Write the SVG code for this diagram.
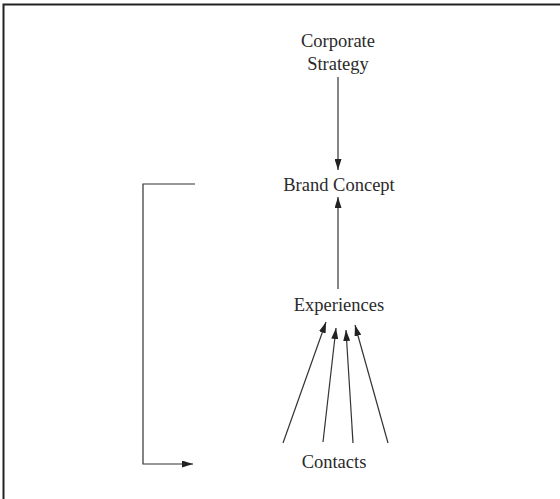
<svg xmlns="http://www.w3.org/2000/svg" width="560" height="499" viewBox="0 0 560 499">
  <style>
    .label { font-family: "Liberation Serif", "Times New Roman", serif; font-size: 18.5px; fill: #2a2a2a; text-anchor: middle; }
    .edge { stroke: #333; stroke-width: 1.2; fill: none; }
    .frame { stroke: #222; stroke-width: 2; fill: none; }
  </style>
  <defs>
    <marker id="arrow" viewBox="0 0 11 7" refX="11" refY="3.5" markerWidth="11" markerHeight="7" markerUnits="userSpaceOnUse" orient="auto">
      <path d="M0,0 L11,3.5 L0,7 z" fill="#222"/>
    </marker>
  </defs>
  <rect width="560" height="499" fill="#fff"/>
  <!-- open frame: top and left edges only -->
  <path class="frame" d="M3.5,499 L3.5,4.5 L560,4.5"/>

  <g id="corporate-strategy">
    <text class="label" x="338" y="47">Corporate</text>
    <text class="label" x="338" y="70">Strategy</text>
  </g>
  <g id="brand-concept">
    <text class="label" x="339" y="191">Brand Concept</text>
  </g>
  <g id="experiences">
    <text class="label" x="339" y="311">Experiences</text>
  </g>
  <g id="contacts">
    <text class="label" x="334" y="468">Contacts</text>
  </g>

  <g id="connectors">
    <line class="edge" x1="338" y1="77" x2="338" y2="170" marker-end="url(#arrow)"/>
    <line class="edge" x1="338" y1="289" x2="338" y2="197" marker-end="url(#arrow)"/>
    <line class="edge" x1="283" y1="443" x2="326" y2="322" marker-end="url(#arrow)"/>
    <line class="edge" x1="323" y1="442" x2="336" y2="328" marker-end="url(#arrow)"/>
    <line class="edge" x1="353" y1="443" x2="346" y2="330" marker-end="url(#arrow)"/>
    <line class="edge" x1="388" y1="443" x2="355" y2="325" marker-end="url(#arrow)"/>
    <path class="edge" d="M195,184 L143,184 L143,464 L193,464" marker-end="url(#arrow)"/>
  </g>
</svg>
